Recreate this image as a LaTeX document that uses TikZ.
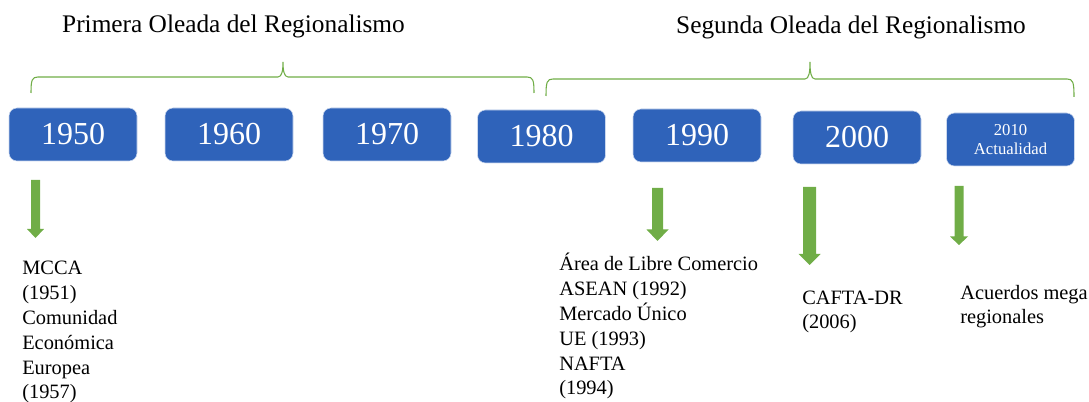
\documentclass[tikz,border=0pt]{standalone}
\usepackage{fontspec}
\setmainfont{Liberation Serif}
\definecolor{boxblue}{RGB}{47,99,186}
\definecolor{wavegreen}{RGB}{112,173,71}

\def\firstbrace{(31,93) .. controls (31,80) and (32,77) .. (38,77) -- (278,77) .. controls (282,77) and (283,70) .. (283,62) .. controls (283,70) and (284,77) .. (288,77) -- (527,77) .. controls (533,77) and (534,80) .. (534,93)}
\def\secondbrace{(546,96) .. controls (546,82) and (547,79) .. (553,79) -- (805,79) .. controls (809,79) and (810,72) .. (810,62) .. controls (810,72) and (811,79) .. (815,79) -- (1067,79) .. controls (1073,79) and (1074,82) .. (1074,97)}
% centre, top, head start, tip, half shaft, half head
\newcommand{\blockarrow}[6]{\fill[wavegreen] (#1-#5,#2) -- (#1+#5,#2) -- (#1+#5,#3) -- (#1+#6,#3) -- (#1,#4) -- (#1-#6,#3) -- (#1-#5,#3) -- cycle;}

\begin{document}
\begin{tikzpicture}[x=0.75pt, y=-0.75pt,
    yearbox/.style={fill=boxblue, draw=white!75!boxblue, line width=0.4pt, rounded corners=6pt, minimum width=96pt, minimum height=39.75pt, inner sep=0pt, text=white, font=\fontsize{24}{28}\selectfont},
    wavetitle/.style={anchor=base, inner sep=0pt, font=\fontsize{19}{23}\selectfont},
    eventtext/.style={anchor=base west, align=left, inner sep=0pt, font=\fontsize{15.3}{18.6}\selectfont}]
                    \useasboundingbox (0,0) rectangle (1089,402);
                    \node[wavetitle] (primera) at (233.5,33) {Primera Oleada del Regionalismo};
                    \node[wavetitle] (segunda) at (851,34) {Segunda Oleada del Regionalismo};
                    \draw[wavegreen, line width=0.8pt] \firstbrace;
                    \draw[wavegreen, line width=0.8pt] \secondbrace;
                    \node[yearbox] (y1950) at (73,134.5) {1950};
                    \node[yearbox] (y1960) at (229,134.5) {1960};
                    \node[yearbox] (y1970) at (387,134.5) {1970};
                    \node[yearbox] (y1980) at (541.5,136.5) {1980};
                    \node[yearbox] (y1990) at (697,135.5) {1990};
                    \node[yearbox] (y2000) at (857,137.5) {2000};
                    \node[yearbox, align=center, font=\fontsize{12.5}{14.3}\selectfont] (y2010) at (1010.5,139.5) {2010\\Actualidad};
                    \blockarrow{35.5}{180}{229}{238}{4.5}{8.5}
                    \blockarrow{657.5}{188}{229.5}{241}{5.5}{11}
                    \blockarrow{809.5}{187}{254}{265}{6.5}{11}
                    \blockarrow{959}{186}{236.5}{245}{4.5}{9}
                    % base west sits on the last line
                    \node[eventtext] (mcca) at (22,399) {MCCA\\(1951)\\Comunidad\\Económica\\Europea\\(1957)};
                    \node[eventtext] (asean) at (559,395) {Área de Libre Comercio\\ASEAN (1992)\\Mercado Único\\UE (1993)\\NAFTA\\(1994)};
                    \node[eventtext] (cafta) at (802,329) {CAFTA-DR\\(2006)};
                    \node[eventtext] (mega) at (960,324) {Acuerdos mega\\regionales};
                  \end{tikzpicture}
\end{document}
